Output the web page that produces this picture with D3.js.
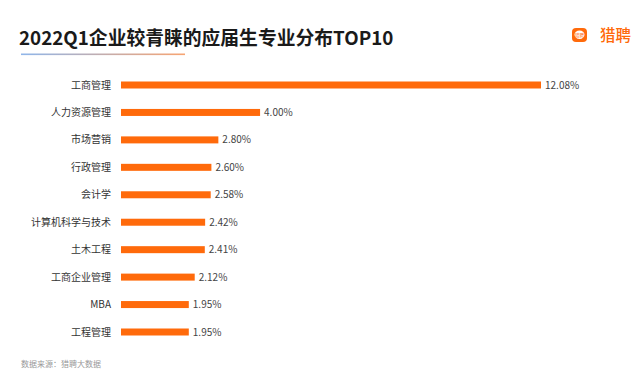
<!DOCTYPE html>
<html>
<head>
<meta charset="utf-8">
<script src="https://cdn.jsdelivr.net/npm/d3@7"></script>
<style>
  body { margin: 0; background: #fff; }
  svg { display: block; font-family: 'Noto Sans CJK SC', 'Noto Sans', sans-serif; }
</style>
</head>
<body>
<svg id="chart" width="641" height="371"></svg>
<script>
// majors + share of employer demand (%)
const majors = ['工商管理', '人力资源管理', '市场营销', '行政管理', '会计学',
  '计算机科学与技术', '土木工程', '工商企业管理', 'MBA', '工程管理'];
const shares = [12.08, 4.00, 2.80, 2.60, 2.58, 2.42, 2.41, 2.12, 1.95, 1.95];

const titleText = '2022Q1企业较青睐的应届生专业分布TOP10';
const sourceText = '数据来源：猎聘大数据';
const brandText = '猎聘';

const orange = '#ff6a0b';

const svg = d3.select('#chart');
const data = majors.map((m, i) => ({ major: m, share: shares[i] }));

// header
svg.append('text')
  .attr('x', 19)
  .attr('y', 45)
  .attr('font-size', 18.8)
  .attr('font-weight', 'bold')
  .attr('fill', '#1a1a1a')
  .text(titleText);

const grad = svg.append('defs').append('linearGradient')
  .attr('id', 'underline');
grad.append('stop').attr('offset', '0%').attr('stop-color', '#8fb6ea');
grad.append('stop').attr('offset', '100%').attr('stop-color', '#f7a472');

svg.append('rect')
  .attr('x', 21)
  .attr('y', 53.5)
  .attr('width', 164)
  .attr('height', 1.6)
  .attr('fill', 'url(#underline)');

// logo
const logo = svg.append('g').attr('transform', 'translate(572,28)');
logo.append('rect')
  .attr('width', 15)
  .attr('height', 14)
  .attr('rx', 4)
  .attr('fill', orange);
logo.append('ellipse')
  .attr('cx', 7.5)
  .attr('cy', 6.8)
  .attr('rx', 5)
  .attr('ry', 4.2)
  .attr('fill', '#fff');
logo.append('text')
  .attr('x', 7.5)
  .attr('y', 8.6)
  .attr('text-anchor', 'middle')
  .attr('font-size', 4.5)
  .attr('fill', orange)
  .text('猎聘');
svg.append('text')
  .attr('x', 600)
  .attr('y', 41)
  .attr('font-size', 15.5)
  .attr('font-weight', 500)
  .attr('fill', orange)
  .text(brandText);

// scales
const x = d3.scaleLinear()
  .domain([0, 12.08])
  .range([121, 541]);

const y = d3.scalePoint()
  .domain(majors)
  .range([85, 332]);

const barH = 7;

const g = svg.append('g');

g.selectAll('.bar')
  .data(data)
  .enter().append('rect')
  .attr('class', 'bar')
  .attr('x', x(0))
  .attr('y', d => y(d.major) - barH / 2)
  .attr('width', d => x(d.share) - x(0))
  .attr('height', barH)
  .attr('fill', orange);

g.selectAll('.cat')
  .data(data)
  .enter().append('text')
  .attr('class', 'cat')
  .attr('x', 111)
  .attr('y', d => y(d.major))
  .attr('dy', '0.36em')
  .attr('text-anchor', 'end')
  .attr('font-size', 10)
  .attr('fill', '#333')
  .text(d => d.major);

g.selectAll('.val')
  .data(data)
  .enter().append('text')
  .attr('class', 'val')
  .attr('x', d => x(d.share) + 4)
  .attr('y', d => y(d.major))
  .attr('dy', '0.36em')
  .attr('font-size', 10)
  .attr('fill', '#444')
  .text(d => `${d.share.toFixed(2)}%`);

// source
svg.append('text')
  .attr('x', 21)
  .attr('y', 367)
  .attr('font-size', 8)
  .attr('fill', '#999')
  .text(sourceText);
</script>
</body>
</html>
